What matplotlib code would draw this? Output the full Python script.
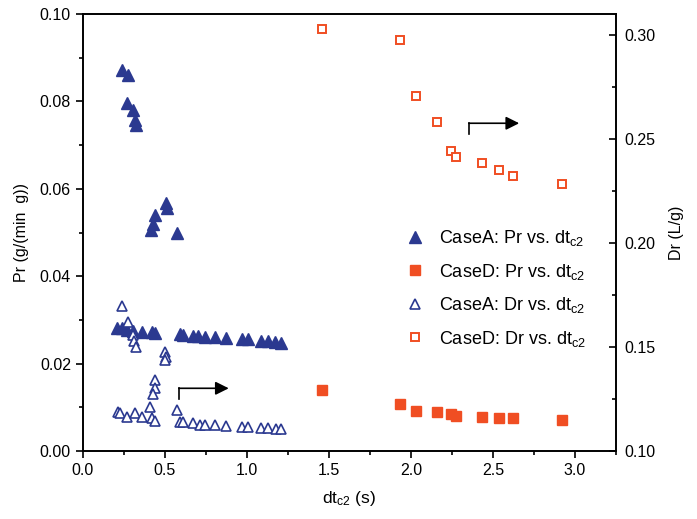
import numpy as np
import matplotlib
matplotlib.use('Agg')
from matplotlib import pyplot as plt
from matplotlib.ticker import MultipleLocator

plt.rcParams['font.family'] = ['Liberation Sans', 'DejaVu Sans']
plt.rcParams['mathtext.default'] = 'regular'

# CaseA: Pr vs dtc2 (filled triangles, left axis)
a_pr_x = [0.237, 0.278, 0.268, 0.304, 0.318, 0.324,
          0.507, 0.511, 0.440, 0.428, 0.414, 0.574,
          0.209, 0.237, 0.268, 0.306, 0.359, 0.420, 0.440,
          0.592, 0.610, 0.671, 0.702, 0.744, 0.805, 0.876, 0.968, 1.006,
          1.089, 1.128, 1.170, 1.211]
a_pr_y = [0.0872, 0.0860, 0.0796, 0.0780, 0.0757, 0.0746,
          0.0567, 0.0556, 0.0540, 0.0520, 0.0506, 0.0500,
          0.0282, 0.0281, 0.0277, 0.0275, 0.0273, 0.0272, 0.0271,
          0.0267, 0.0266, 0.0264, 0.0263, 0.0262, 0.0261, 0.0259, 0.0257, 0.0256,
          0.0252, 0.0251, 0.0249, 0.0247]

# CaseA: Dr vs dtc2 (open triangles, right axis)
a_dr_x = [0.237, 0.278, 0.308, 0.312, 0.324, 0.501, 0.507, 0.501,
          0.440, 0.440, 0.430, 0.410,
          0.217, 0.227, 0.268, 0.318, 0.359, 0.420, 0.440,
          0.576, 0.592, 0.612, 0.673, 0.714, 0.744, 0.805, 0.876, 0.968, 1.008,
          1.089, 1.130, 1.177, 1.211]
a_dr_y = [0.1695, 0.1618, 0.1559, 0.1527, 0.1502, 0.1478, 0.1454, 0.1438,
          0.1342, 0.1303, 0.1275, 0.1213,
          0.1189, 0.1183, 0.1165, 0.1183, 0.1164, 0.1159, 0.1146,
          0.1197, 0.1141, 0.1141, 0.1133, 0.1125, 0.1125, 0.1125, 0.1120, 0.1117, 0.1114,
          0.1109, 0.1109, 0.1107, 0.1106]

# CaseD
d_x = [1.461, 1.935, 2.033, 2.161, 2.246, 2.276, 2.435, 2.540, 2.621, 2.921]
d_pr_y = [0.0140, 0.0108, 0.0092, 0.0089, 0.0085, 0.0080, 0.0077, 0.0076, 0.0075, 0.0071]
d_dr_y = [0.3028, 0.2976, 0.2704, 0.2583, 0.2442, 0.2413, 0.2386, 0.2350, 0.2321, 0.2281]

blue = '#2B3990'
orange = '#F04E23'

fig = plt.figure(figsize=(6.97, 5.19), dpi=100)
ax = fig.add_axes([82.7/697, 68/519, (616-82.7)/697, 437/519])
ax2 = ax.twinx()

h1, = ax.plot(a_pr_x, a_pr_y, '^', ms=9, color=blue, mec=blue, ls='none',
              label='CaseA: Pr vs. dt$_{c2}$')
h2, = ax.plot(d_x, d_pr_y, 's', ms=6.5, color=orange, mec=orange, ls='none',
              label='CaseD: Pr vs. dt$_{c2}$')
h3, = ax2.plot(a_dr_x, a_dr_y, '^', ms=7.5, mfc='white', mec=blue, mew=1.2, ls='none',
               label='CaseA: Dr vs. dt$_{c2}$')
h4, = ax2.plot(d_x, d_dr_y, 's', ms=6, mfc='white', mec=orange, mew=1.4, ls='none',
               label='CaseD: Dr vs. dt$_{c2}$')

ax.set_xlim(0, 3.25)
ax.set_ylim(0, 0.10)
ax2.set_ylim(0.10, 0.31)

ax.xaxis.set_major_locator(MultipleLocator(0.5))
ax.xaxis.set_minor_locator(MultipleLocator(0.25))
ax.yaxis.set_major_locator(MultipleLocator(0.02))
ax.yaxis.set_minor_locator(MultipleLocator(0.01))
ax2.yaxis.set_major_locator(MultipleLocator(0.05))
ax2.yaxis.set_minor_locator(MultipleLocator(0.025))
ax.xaxis.set_major_formatter('{x:.1f}')
ax.yaxis.set_major_formatter('{x:.2f}')
ax2.yaxis.set_major_formatter('{x:.2f}')

ax.tick_params(axis='both', which='major', direction='out', length=5, width=1.2, labelsize=11.5)
ax.tick_params(axis='both', which='minor', direction='out', length=3, width=1.2)
ax.tick_params(top=False, right=False, which='both')
ax2.tick_params(axis='y', which='major', direction='in', length=5, width=1.2, labelsize=11.5, pad=6)
ax2.tick_params(axis='y', which='minor', direction='in', length=3, width=1.2)
for a in (ax, ax2):
    for s in a.spines.values():
        s.set_linewidth(1.2)

ax.set_xlabel('dt$_{c2}$ (s)', fontsize=12.5, labelpad=8)
ax.set_ylabel('Pr (g/(min  g))', fontsize=11.5, labelpad=8)
ax2.set_ylabel('Dr (L/g)', fontsize=11.5, labelpad=10)

# arrows pointing to the axis each group belongs to
ax.plot([2.353, 2.353], [0.0725, 0.075], color='k', lw=1.2)
ax.annotate('', xy=(2.66, 0.075), xytext=(2.353, 0.075),
            arrowprops=dict(arrowstyle='-|>', color='k', lw=1.2, mutation_scale=20, shrinkA=0, shrinkB=0))
ax.plot([0.586, 0.586], [0.0119, 0.01435], color='k', lw=1.2)
ax.annotate('', xy=(0.89, 0.01435), xytext=(0.586, 0.01435),
            arrowprops=dict(arrowstyle='-|>', color='k', lw=1.2, mutation_scale=20, shrinkA=0, shrinkB=0))

ax2.legend(handles=[h1, h2, h3, h4], loc='center left', bbox_to_anchor=(0.59, 0.372),
           frameon=False, fontsize=13, handlelength=1.0, handletextpad=0.8,
           labelspacing=0.75, borderpad=0)

fig.savefig('out.png', dpi=100)
